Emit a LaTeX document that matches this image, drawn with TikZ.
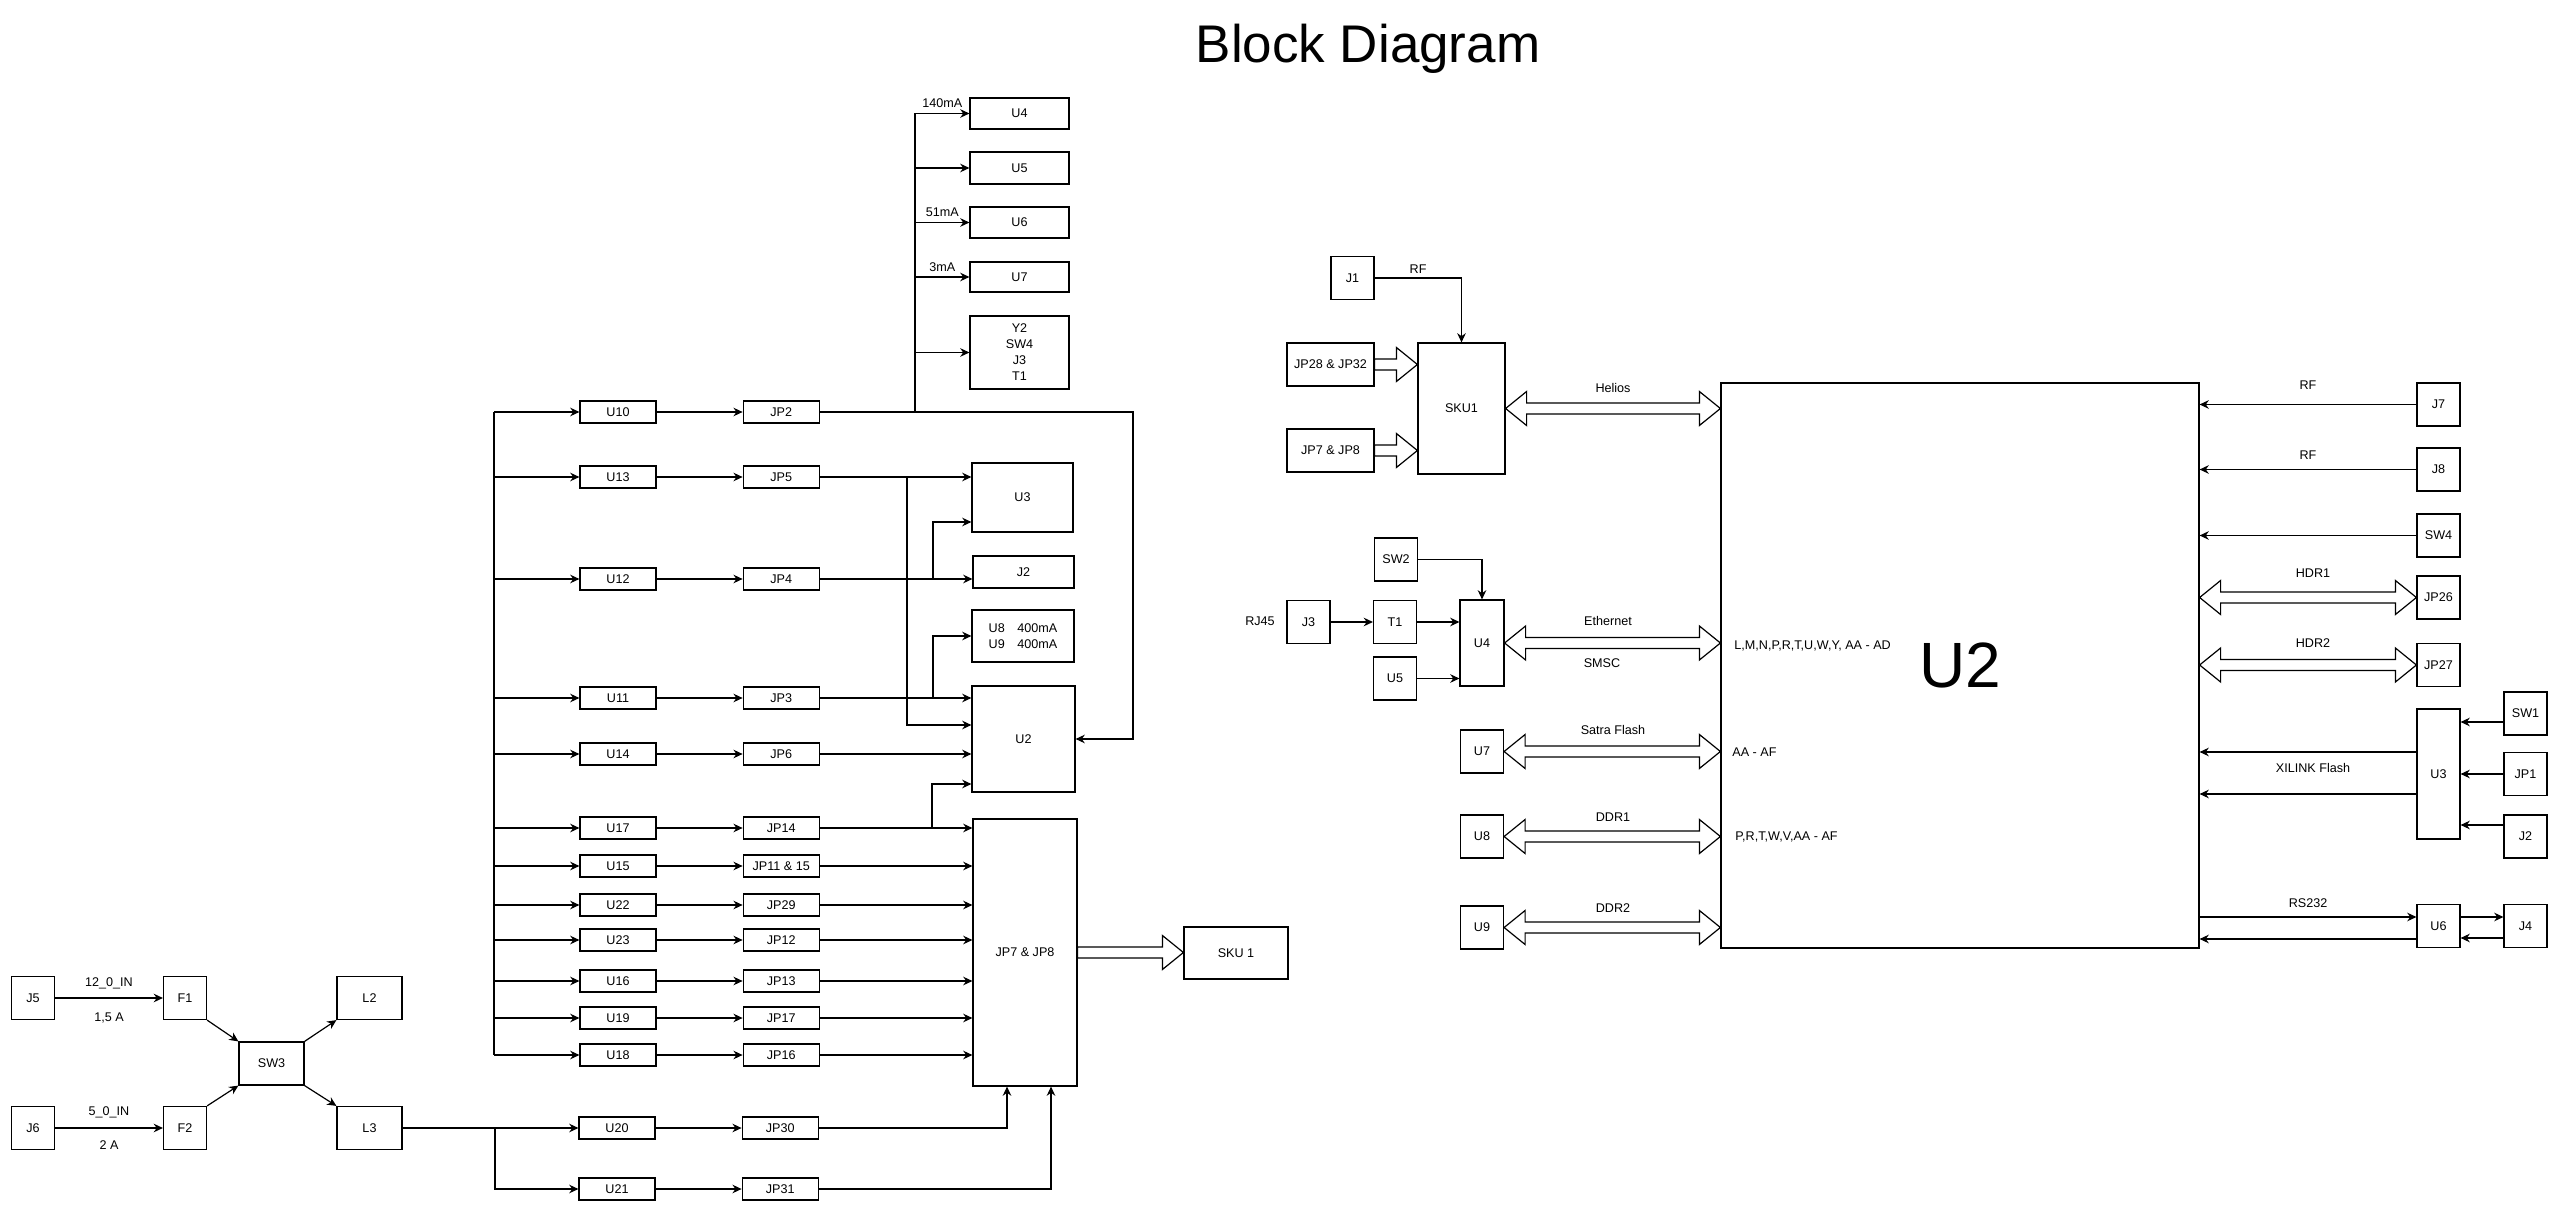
\documentclass[tikz,border=0pt]{standalone}
\usepackage{fontspec}
\setmainfont{Liberation Sans}
\usetikzlibrary{arrows.meta, calc, positioning}

% hollow bus arrows (one head / two heads), horizontal
\newcommand{\flexdbl}[2]{%
  \draw[flex] let \p1=(#1), \p2=(#2) in
    (\x1,\y1) -- (\x1+10.5pt,\y1+8.5pt) -- (\x1+10.5pt,\y1+2.75pt)
    -- (\x2-10.5pt,\y1+2.75pt) -- (\x2-10.5pt,\y1+8.5pt) -- (\x2,\y1)
    -- (\x2-10.5pt,\y1-8.5pt) -- (\x2-10.5pt,\y1-2.75pt)
    -- (\x1+10.5pt,\y1-2.75pt) -- (\x1+10.5pt,\y1-8.5pt) -- cycle;}
\newcommand{\flexone}[2]{%
  \draw[flex] let \p1=(#1), \p2=(#2) in
    (\x1,\y1+2.75pt) -- (\x2-10.5pt,\y1+2.75pt) -- (\x2-10.5pt,\y1+8.5pt)
    -- (\x2,\y1) -- (\x2-10.5pt,\y1-8.5pt) -- (\x2-10.5pt,\y1-2.75pt)
    -- (\x1,\y1-2.75pt) -- cycle;}

\begin{document}
\begin{tikzpicture}[
    x=0.5pt, y=-0.5pt,
    blk/.style={draw, line width=0.6pt, fill=white, inner sep=1pt, align=center,
                font=\fontsize{6.3}{8}\selectfont},
    sq/.style={blk, minimum width=21.5pt, minimum height=21.5pt},
    wd/.style={blk, minimum width=32.5pt, minimum height=21.5pt},
    lng/.style={blk, minimum width=38pt, minimum height=11pt},
    col/.style={blk, minimum width=49.5pt},
    lbl/.style={inner sep=0pt, font=\fontsize{6.3}{8}\selectfont},
    wire/.style={line width=0.6pt},
    arr/.style={wire, -{Stealth[length=4.6pt, width=4.3pt]}},
    flex/.style={line width=0.6pt, fill=white, line join=miter}
  ]
    \useasboundingbox (0,0) rectangle (2560,1213);

    \node[font=\fontsize{26.5}{30}\selectfont] (title) at (1368,49) {Block Diagram};

    % power input
    \node[sq] (j5) at (33,998) {J5};
    \node[sq] (f1) at (185,998) {F1};
    \node[sq] (j6) at (33,1128) {J6};
    \node[sq] (f2) at (185,1128) {F2};
    \node[wd] (sw3) at (271.5,1063.5) {SW3};
    \node[wd] (l2) at (369.5,998) {L2};
    \node[wd] (l3) at (369.5,1128) {L3};

    \draw[arr] (j5) -- (f1) node[midway, lbl, yshift=7.5pt] (v12) {12\_0\_IN}
      node[midway, lbl, yshift=-10pt] (i12) {1,5 A};
    \draw[arr] (j6) -- (f2) node[midway, lbl, yshift=8pt] (v5) {5\_0\_IN}
      node[midway, lbl, yshift=-8.5pt] (i5) {2 A};
    \draw[arr] (f1.south east) -- (sw3.north west);
    \draw[arr] (f2.north east) -- (sw3.south west);
    \draw[arr] (sw3.north east) -- (l2.south west);
    \draw[arr] (sw3.south east) -- (l3.north west);

    % regulators and jumpers
    \node[lng] (u10) at (618,412) {U10};
    \node[lng] (u13) at (618,477) {U13};
    \node[lng] (u12) at (618,579) {U12};
    \node[lng] (u11) at (618,698) {U11};
    \node[lng] (u14) at (618,754) {U14};
    \node[lng] (u17) at (618,828) {U17};
    \node[lng] (u15) at (618,866) {U15};
    \node[lng] (u22) at (618,905) {U22};
    \node[lng] (u23) at (618,940) {U23};
    \node[lng] (u16) at (618,981) {U16};
    \node[lng] (u19) at (618,1018) {U19};
    \node[lng] (u18) at (618,1055) {U18};
    \node[lng] (u20) at (617,1128) {U20};
    \node[lng] (u21) at (617,1189) {U21};
    \node[lng, right=43pt of u10] (jp2) {JP2};
    \node[lng, right=43pt of u13] (jp5) {JP5};
    \node[lng, right=43pt of u12] (jp4) {JP4};
    \node[lng, right=43pt of u11] (jp3) {JP3};
    \node[lng, right=43pt of u14] (jp6) {JP6};
    \node[lng, right=43pt of u17] (jp14) {JP14};
    \node[lng, right=43pt of u15] (jp1115) {JP11 \& 15};
    \node[lng, right=43pt of u22] (jp29) {JP29};
    \node[lng, right=43pt of u23] (jp12) {JP12};
    \node[lng, right=43pt of u16] (jp13) {JP13};
    \node[lng, right=43pt of u19] (jp17) {JP17};
    \node[lng, right=43pt of u18] (jp16) {JP16};
    \node[lng, right=43pt of u20] (jp30) {JP30};
    \node[lng, right=43pt of u21] (jp31) {JP31};

    \coordinate (lbus) at (494,412);
    \draw[wire] (lbus) -- (lbus |- u18);
    \foreach \n in {u10,u13,u12,u11,u14,u17,u15,u22,u23,u16,u19,u18}
      \draw[arr] (lbus |- \n) -- (\n);
    \foreach \a/\b in {u10/jp2, u13/jp5, u12/jp4, u11/jp3, u14/jp6, u17/jp14,
                       u15/jp1115, u22/jp29, u23/jp12, u16/jp13, u19/jp17,
                       u18/jp16, u20/jp30, u21/jp31}
      \draw[arr] (\a) -- (\b);

    \coordinate (l3fork) at (495,1128);
    \draw[arr] (l3) -- (u20);
    \draw[arr] (l3fork) |- (u21);

    % loads
    \node[col, minimum height=15.5pt] (tu4) at (1019.5,113.5) {U4};
    \node[col, minimum height=16pt] (tu5) at (1019.5,168) {U5};
    \node[col, minimum height=15.5pt] (tu6) at (1019.5,222.5) {U6};
    \node[col, minimum height=15pt] (tu7) at (1019.5,277) {U7};
    \node[col, minimum height=36.5pt] (y2) at (1019.5,352.5) {Y2\\SW4\\J3\\T1};
    \node[blk, minimum width=50.5pt, minimum height=34.5pt] (mu3) at (1022.5,497.5) {U3};
    \node[blk, minimum width=50.5pt, minimum height=16pt] (mj2) at (1023.5,572) {J2};
    \node[blk, minimum width=51pt, minimum height=26pt] (u89) at (1023,636)
      {U8\quad 400mA\\U9\quad 400mA};
    \node[blk, minimum width=51.5pt, minimum height=53pt] (mu2) at (1023.5,739) {U2};
    \node[blk, minimum width=52pt, minimum height=133.5pt] (jp78) at (1025,952.5) {JP7 \& JP8};
    \node[blk, minimum width=52pt, minimum height=26pt] (sku1b) at (1236,953) {SKU 1};

    \coordinate (tbus) at (915,412);
    \coordinate (jp2turn) at (1133,412);
    \draw[arr] (jp2.east) -- (jp2turn) |- (mu2.east);
    \draw[wire] (tbus) -- (tbus |- tu4);
    \draw[arr] (tbus |- tu4) -- (tu4) node[midway, lbl, yshift=5pt] (c140) {140mA};
    \draw[arr] (tbus |- tu5) -- (tu5);
    \draw[arr] (tbus |- tu6) -- (tu6) node[midway, lbl, yshift=5pt] (c51) {51mA};
    \draw[arr] (tbus |- tu7) -- (tu7) node[midway, lbl, yshift=5pt] (c3) {3mA};
    \draw[arr] (tbus |- y2) -- (y2);

    \coordinate (br5) at (907,477);
    \coordinate (br4) at (933,579);
    \coordinate (br3) at (933,698);
    \coordinate (br14) at (932,828);
    \draw[arr] (jp5) -- (mu3.west |- jp5);
    \draw[arr] (br5) |- ([yshift=7pt]mu2.west);
    \draw[arr] (jp4) -- (mj2.west |- jp4);
    \draw[arr] (br4) |- ([yshift=-12.25pt]mu3.west);
    \draw[arr] (jp3) -- (mu2.west |- jp3);
    \draw[arr] (br3) |- (u89.west);
    \draw[arr] (jp6) -- (mu2.west |- jp6);
    \draw[arr] (br14) |- ([yshift=-22.5pt]mu2.west);
    \foreach \n in {jp14,jp1115,jp29,jp12,jp13,jp17,jp16}
      \draw[arr] (\n) -- (jp78.west |- \n);
    \draw[arr] (jp30) -| ([xshift=-9pt]jp78.south);
    \draw[arr] (jp31) -| ([xshift=13pt]jp78.south);
    \flexone{jp78.east}{sku1b.west}

    % SKU1 and ethernet
    \node[sq] (j1) at (1352.5,278) {J1};
    \node[blk, minimum width=43.5pt, minimum height=21.5pt] (jp2832) at (1330.5,364.5) {JP28 \& JP32};
    \node[blk, minimum width=43.5pt, minimum height=21.5pt] (jp78b) at (1330.5,450.5) {JP7 \& JP8};
    \node[blk, minimum width=43.5pt, minimum height=65.5pt] (sku1) at (1461.5,408.5) {SKU1};
    \node[sq] (sw2) at (1396,559.5) {SW2};
    \node[sq] (j3) at (1308.5,622) {J3};
    \node[lbl] (rj45) at (1260,621) {RJ45};
    \node[sq] (t1) at (1395,622) {T1};
    \node[sq] (ru5) at (1395,678.5) {U5};
    \node[blk, minimum width=22pt, minimum height=43pt] (ru4) at (1482,643) {U4};
    \node[sq] (ru7) at (1482,751.5) {U7};
    \node[sq] (ru8) at (1482,836.5) {U8};
    \node[sq] (ru9) at (1482,927.5) {U9};

    \draw[arr] (j1) -| (sku1) node[pos=0.25, lbl, yshift=4.5pt] (rf1) {RF};
    \flexone{jp2832.east}{sku1.west |- jp2832}
    \flexone{jp78b.east}{sku1.west |- jp78b}
    \draw[arr] (sw2) -| (ru4);
    \draw[arr] (j3) -- (t1);
    \draw[arr] (t1) -- (ru4.west |- t1);
    \draw[arr] (ru5) -- (ru4.west |- ru5);

    % main FPGA
    \node[blk, minimum width=239pt, minimum height=282.5pt,
          font=\fontsize{32}{36}\selectfont] (bigu2) at (1960,665.5) {U2};
    \node[lbl, anchor=west] (pinsa) at (1734,646) {L,M,N,P,R,T,U,W,Y, AA - AD};
    \node[lbl, anchor=west] (pinsb) at (1732,752) {AA - AF};
    \node[lbl, anchor=west] (pinsc) at (1735,837) {P,R,T,W,V,AA - AF};

    \flexdbl{sku1.east}{bigu2.west |- sku1.east}
    \flexdbl{ru4.east}{bigu2.west |- ru4.east}
    \flexdbl{ru7.east}{bigu2.west |- ru7.east}
    \flexdbl{ru8.east}{bigu2.west |- ru8.east}
    \flexdbl{ru9.east}{bigu2.west |- ru9.east}
    \node[lbl] (helios) at (1613,388) {Helios};
    \node[lbl] (eth) at (1608,621) {Ethernet};
    \node[lbl] (smsc) at (1602,663) {SMSC};
    \node[lbl] (satra) at (1613,730) {Satra Flash};
    \node[lbl] (ddr1) at (1613,817) {DDR1};
    \node[lbl] (ddr2) at (1613,908) {DDR2};

    % right side peripherals
    \node[sq] (j7) at (2438.5,404.5) {J7};
    \node[sq] (j8) at (2438.5,469.5) {J8};
    \node[sq] (sw4) at (2438.5,535.5) {SW4};
    \node[sq] (jp26) at (2438.5,597.5) {JP26};
    \node[sq] (jp27) at (2438.5,665) {JP27};
    \node[blk, minimum width=21.5pt, minimum height=65pt] (ru3) at (2438.5,774) {U3};
    \node[sq] (sw1) at (2525.5,713.5) {SW1};
    \node[sq] (jp1) at (2525.5,774) {JP1};
    \node[sq] (rj2) at (2525.5,836.5) {J2};
    \node[sq] (ru6) at (2438.5,926) {U6};
    \node[sq] (j4) at (2525.5,926) {J4};

    \draw[arr] (j7) -- (bigu2.east |- j7) node[midway, lbl, yshift=9.5pt] (rf7) {RF};
    \draw[arr] (j8) -- (bigu2.east |- j8) node[midway, lbl, yshift=7pt] (rf8) {RF};
    \draw[arr] (sw4) -- (bigu2.east |- sw4);
    \flexdbl{bigu2.east |- jp26}{jp26.west}
    \flexdbl{bigu2.east |- jp27}{jp27.west}
    \node[lbl] (hdr1) at (2313,573) {HDR1};
    \node[lbl] (hdr2) at (2313,643) {HDR2};

    \coordinate (xa) at ([yshift=11pt]ru3.west);
    \coordinate (xb) at ([yshift=-10pt]ru3.west);
    \draw[arr] (xa) -- (xa -| bigu2.east);
    \draw[arr] (xb) -- (xb -| bigu2.east);
    \node[lbl] (xflash) at (2313,768) {XILINK Flash};
    \coordinate (s1) at ([yshift=-4.25pt]sw1.west);
    \coordinate (s2) at ([yshift=5.75pt]rj2.west);
    \draw[arr] (s1) -- (s1 -| ru3.east);
    \draw[arr] (jp1) -- (ru3);
    \draw[arr] (s2) -- (s2 -| ru3.east);

    \coordinate (rsa) at ([yshift=4.5pt]ru6.west);
    \coordinate (rsb) at ([yshift=-6.5pt]ru6.west);
    \draw[arr] (rsa -| bigu2.east) -- (rsa) node[midway, lbl, yshift=7pt] (rs232) {RS232};
    \draw[arr] (rsb) -- (rsb -| bigu2.east);
    \coordinate (ja) at ([yshift=4.5pt]j4.west);
    \coordinate (jb) at ([yshift=-6pt]j4.west);
    \draw[arr] (ja -| ru6.east) -- (ja);
    \draw[arr] (jb) -- (jb -| ru6.east);
  \end{tikzpicture}
\end{document}
